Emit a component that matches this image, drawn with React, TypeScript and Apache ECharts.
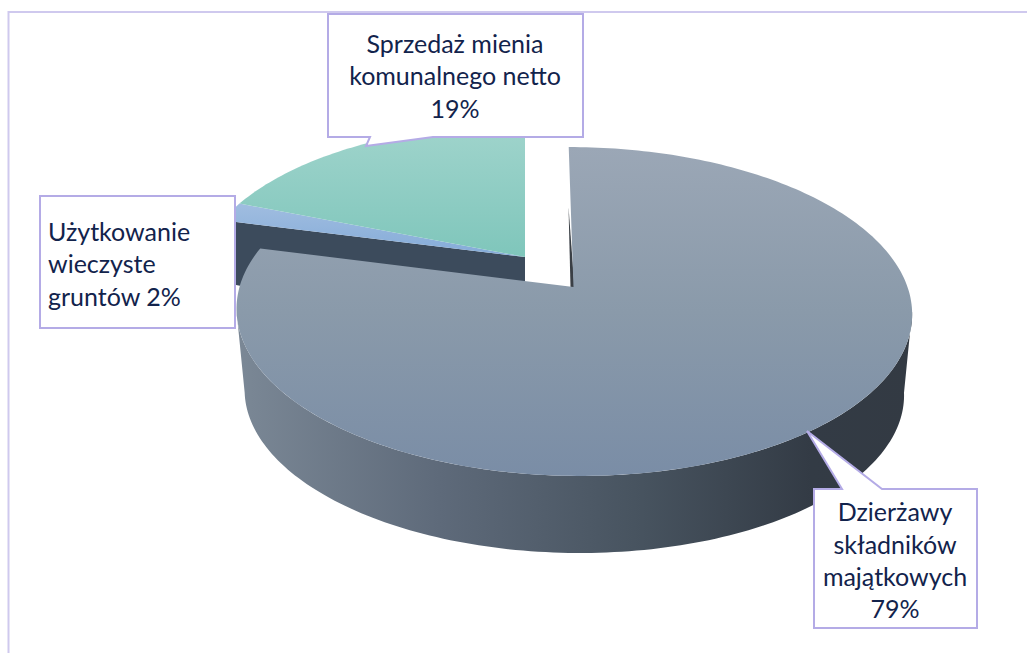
import React, { useEffect, useRef } from "react";
import * as echarts from "echarts";

const categories = ["Dzierżawy składników majątkowych", "Użytkowanie wieczyste gruntów", "Sprzedaż mienia komunalnego netto"];
const shares = [79, 2, 19];
const labels = ["Dzierżawy\nskładników\nmajątkowych\n79%", "Użytkowanie\nwieczyste\ngruntów 2%", "Sprzedaż mienia\nkomunalnego netto\n19%"];
const drawOrder = [1, 2, 0];

const total = shares.reduce((a, b) => a + b, 0);
const starts: number[] = [];
shares.reduce((acc, v, i) => { starts[i] = acc; return acc + v; }, 0);

const K = 0.149;
const toRad = (p: number) => (p / total) * Math.PI * 2;

type Frame = { x0: number; y0: number; b: number; a: number; c: number };
const project = (f: Frame, th: number): [number, number] => {
  const u = Math.sin(th), v = Math.cos(th), d = 1 + K * v;
  return [f.x0 + (f.b * u + f.c * v) / d, f.y0 - (f.a * v) / d];
};
const arcPts = (f: Frame, t0: number, t1: number) => {
  const n = Math.max(2, Math.ceil(Math.abs(t1 - t0) / 0.02));
  const out: [number, number][] = [];
  for (let i = 0; i <= n; i++) out.push(project(f, t0 + ((t1 - t0) * i) / n));
  return out;
};
const toPath = (pts: [number, number][]) =>
  "M" + pts.map((p) => p[0].toFixed(2) + " " + p[1].toFixed(2)).join("L") + "Z";

const bigTop: Frame = { x0: 573.5, y0: 287, b: 334, a: 160.8, c: -5.5 };
const bigBottom: Frame = { x0: 573.5, y0: 368.5, b: 326, a: 157, c: -5.5 };
const smallTop: Frame = { x0: 525, y0: 257, b: 324, a: 153, c: 0 };

const vGrad = (...colors: string[]) => ({
  type: "linear", x: 0, y: 0, x2: 0, y2: 1,
  colorStops: colors.map((color, i) => ({ offset: i / (colors.length - 1), color })),
});

const renderPath = (pts: [number, number][], fill: any) => {
  const xs = pts.map((p) => p[0]), ys = pts.map((p) => p[1]);
  const x = Math.min(...xs), y = Math.min(...ys);
  return {
    type: "path",
    shape: { pathData: toPath(pts), x, y, width: Math.max(...xs) - x, height: Math.max(...ys) - y, layout: "cover" },
    style: { fill },
  };
};

const renderItem = (_p: any, api: any) => {
  const i = api.value(0);
  const t0 = toRad(starts[i]);
  const t1 = toRad(starts[i] + shares[i]);
  const kids: any[] = [];
  if (i === 0) {
    const ext = Math.PI / 2 + Math.asin(K);
    const wall = [...arcPts(bigTop, ext, 2 * Math.PI - ext), ...arcPts(bigBottom, 2 * Math.PI - ext, ext)];
    kids.push(renderPath(wall, {
      type: "linear", x: 0, y: 0, x2: 1, y2: 0,
      colorStops: [
        { offset: 0, color: "#7b8896" },
        { offset: 0.3, color: "#5e6a7a" },
        { offset: 0.6, color: "#47535f" },
        { offset: 0.85, color: "#333b45" },
        { offset: 1, color: "#333a43" },
      ],
    }));
    const apex: [number, number] = [bigTop.x0, bigTop.y0];
    const top = project(bigTop, 0);
    kids.push(renderPath([[top[0] - 0.2, top[1] + 60], [apex[0] - 3, apex[1] + 0.5], [apex[0] + 1, apex[1] + 0.5]], "#3a3f45"));
    kids.push(renderPath([apex, ...arcPts(bigTop, t0, t1)], vGrad("#9ba7b6", "#8a9aaa", "#7a8da6")));
  } else {
    const rim = project(smallTop, i === 1 ? t0 : t1);
    if (i === 1) {
      kids.push(renderPath([[525, 257], rim, [rim[0] + 10, rim[1] + 64], [525, 342]], "#3c4b5c"));
    }
    kids.push(renderPath([[525, 257], ...arcPts(smallTop, t0, t1)],
      i === 1 ? vGrad("#a0bde0", "#84abd8") : vGrad("#a0d4cc", "#7fc6bb")));
  }
  return { type: "group", children: kids };
};

const BORDER = "#b4abe6";
const INK = "#12234c";
const box = (points: number[][]) => ({
  type: "polygon",
  z: 10,
  shape: { points },
  style: { fill: "#ffffff", stroke: BORDER, lineWidth: 2 },
});
const txt = (text: string, x: number, y: number, align: string) => ({
  type: "text",
  z: 11,
  x, y,
  style: { text, x: 0, y: 0, fill: INK, font: "25px Lato", lineHeight: 32.4, align, verticalAlign: "top" },
});

export default function App() {
  const ref = useRef<HTMLDivElement>(null);
  useEffect(() => {
    const chart = echarts.init(ref.current!, null, { renderer: "svg" });
    chart.setOption({
      animation: false,
      backgroundColor: "#ffffff",
      series: [{
        type: "custom",
        coordinateSystem: "none",
        silent: true,
        z: 2,
        data: drawOrder.map((i) => [i, shares[i], categories[i]]),
        renderItem,
      }],
      graphic: [
        { type: "polyline", z: 1, shape: { points: [[8.5, 653], [8.5, 12], [1027, 12]] }, style: { fill: "none", stroke: "#cfc9ee", lineWidth: 2 } },
        box([[328, 14], [583, 14], [583, 137], [433, 137], [366, 146], [370, 137], [328, 137]]),
        box([[40, 196], [235, 196], [235, 328], [40, 328]]),
        box([[814, 489], [842, 489], [807, 431], [882, 489], [977, 489], [977, 628], [814, 628]]),
        txt(labels[2], 455, 26.5, "center"),
        txt(labels[1], 48, 214.5, "left"),
        txt(labels[0], 895, 495, "center"),
      ],
    });
    return () => chart.dispose();
  }, []);
  return <div ref={ref} style={{ position: "absolute", left: 0, top: 0, width: 1027, height: 653 }} />;
}
